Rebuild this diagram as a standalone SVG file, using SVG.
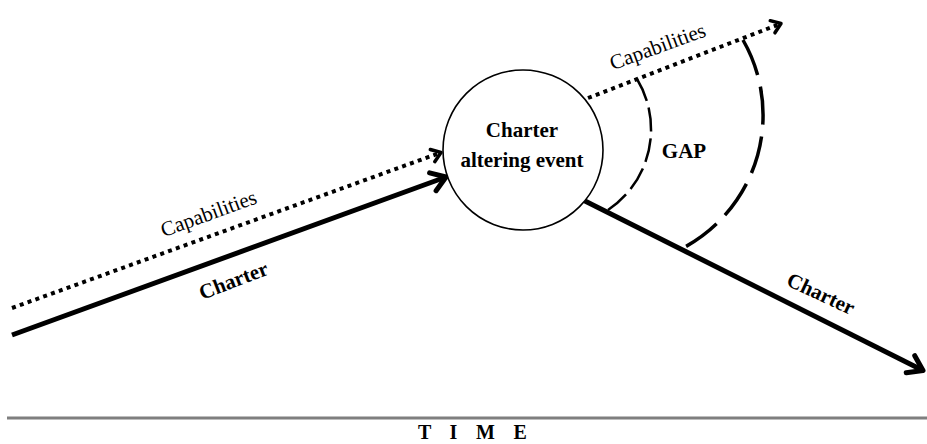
<svg xmlns="http://www.w3.org/2000/svg" width="927" height="444" viewBox="0 0 927 444">
<style>
  .lbl { font-family: "Liberation Serif", "Times New Roman", serif; fill: #000; }
  .bold { font-weight: bold; }
  .thick { stroke: #000; stroke-width: 5; fill: none; }
  .dotted { stroke: #000; stroke-width: 4; stroke-dasharray: 4 4.3; fill: none; }
  .gap1 { stroke: #000; stroke-width: 2.5; stroke-dasharray: 24 7; fill: none; }
  .gap2 { stroke: #000; stroke-width: 3.5; stroke-dasharray: 38 12; fill: none; }
</style>
<defs>
  <marker id="arrowThick" markerUnits="userSpaceOnUse" orient="auto" markerWidth="40" markerHeight="40" refX="0" refY="0" viewBox="-20 -20 40 40" overflow="visible">
    <path d="M -14,-9.5 L 0,0 L -14,9.5" fill="none" stroke="#000" stroke-width="5" stroke-linecap="round" stroke-linejoin="round"/>
  </marker>
  <marker id="arrowDot" markerUnits="userSpaceOnUse" orient="auto" markerWidth="30" markerHeight="30" refX="0" refY="0" viewBox="-15 -15 30 30" overflow="visible">
    <path d="M -9,-6.5 L 0,0 L -9,6.5" fill="none" stroke="#000" stroke-width="3.5" stroke-linecap="round" stroke-linejoin="round"/>
  </marker>
</defs>
<rect width="927" height="444" fill="#fff"/>

<g id="connectors">
  <line class="dotted" x1="12" y1="308" x2="441" y2="152.5" marker-end="url(#arrowDot)"/>
  <line class="thick" x1="12" y1="335" x2="446" y2="177" marker-end="url(#arrowThick)"/>
  <line class="dotted" x1="588" y1="98" x2="781" y2="23.5" marker-end="url(#arrowDot)"/>
  <line class="thick" x1="583" y1="200" x2="923" y2="370.5" marker-end="url(#arrowThick)"/>
  <path class="gap1" d="M 637 79 A 97 97 0 0 1 608 210"/>
  <path class="gap2" d="M 743 40 A 150.5 150.5 0 0 1 685 247"/>
</g>

<g id="labels">
  <text class="lbl" font-size="21" text-anchor="middle" transform="translate(211,220) rotate(-20)">Capabilities</text>
  <text class="lbl bold" font-size="21" text-anchor="middle" transform="translate(236,287) rotate(-21)">Charter</text>
  <text class="lbl" font-size="21" text-anchor="middle" transform="translate(660,53) rotate(-20)">Capabilities</text>
  <text class="lbl bold" font-size="21" text-anchor="middle" transform="translate(818,300) rotate(25)">Charter</text>
  <text class="lbl bold" font-size="21" x="684" y="158" text-anchor="middle">GAP</text>
</g>

<g id="event">
  <circle cx="523" cy="150" r="80" fill="#fff" stroke="#000" stroke-width="1.6"/>
  <text class="lbl bold" font-size="21" x="522" y="137" text-anchor="middle">Charter</text>
  <text class="lbl bold" font-size="21" x="522" y="167" text-anchor="middle">altering event</text>
</g>

<g id="time">
  <line x1="7" y1="418" x2="927" y2="418" stroke="#7f7f7f" stroke-width="3"/>
  <text class="lbl bold" font-size="20" x="418" y="439" letter-spacing="6.8">T I M E</text>
</g>
</svg>
